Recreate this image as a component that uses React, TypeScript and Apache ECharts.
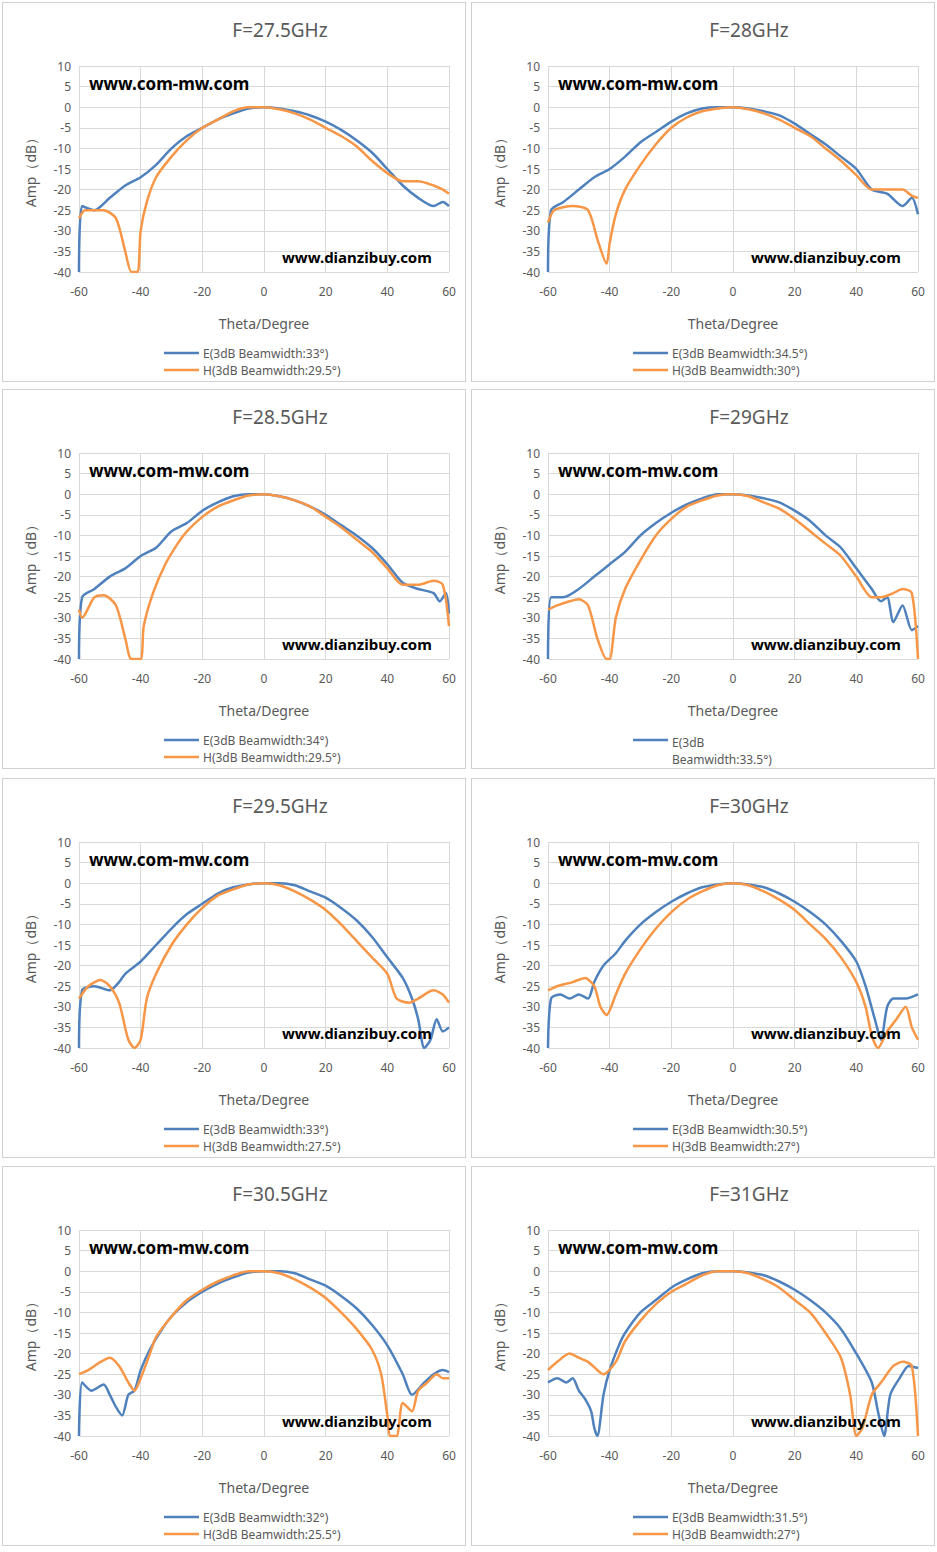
import React, { useEffect, useRef } from 'react';
import * as echarts from 'echarts';

const titles = ['F=27.5GHz', 'F=28GHz', 'F=28.5GHz', 'F=29GHz', 'F=29.5GHz', 'F=30GHz', 'F=30.5GHz', 'F=31GHz'];
const xTicks = [-60, -40, -20, 0, 20, 40, 60];
const yTicks = [-40, -35, -30, -25, -20, -15, -10, -5, 0, 5, 10];

const eLegend = ['E(3dB Beamwidth:33°)', 'E(3dB Beamwidth:34.5°)', 'E(3dB Beamwidth:34°)', 'E(3dB\nBeamwidth:33.5°)',
  'E(3dB Beamwidth:33°)', 'E(3dB Beamwidth:30.5°)', 'E(3dB Beamwidth:32°)', 'E(3dB Beamwidth:31.5°)'];
const hLegend = ['H(3dB Beamwidth:29.5°)', 'H(3dB Beamwidth:30°)', 'H(3dB Beamwidth:29.5°)', '',
  'H(3dB Beamwidth:27.5°)', 'H(3dB Beamwidth:27°)', 'H(3dB Beamwidth:25.5°)', 'H(3dB Beamwidth:27°)'];

const eData: number[][][] = [
  [[-60,-40],[-59,-24],[-55,-25],[-50,-22],[-45,-19],[-40,-17],[-35,-14],[-30,-10],[-25,-7],[-20,-5],[-15,-3],[-10,-1.5],[-5,-0.3],[0,0],[5,-0.3],[10,-1],[15,-2],[20,-3.5],[25,-5.5],[30,-8],[35,-11],[40,-15],[45,-19],[50,-22],[55,-24],[58,-23],[60,-24]],
  [[-60,-40],[-59,-25],[-55,-23],[-50,-20],[-45,-17],[-40,-15],[-35,-12],[-30,-8.5],[-25,-6],[-20,-3.5],[-15,-1.5],[-10,-0.3],[-5,0],[0,0],[5,-0.3],[10,-1],[15,-2],[20,-4],[25,-6.5],[30,-9],[35,-12],[40,-15],[45,-20],[50,-21],[55,-24],[58,-22],[60,-26]],
  [[-60,-40],[-59,-25],[-55,-23],[-50,-20],[-45,-18],[-40,-15],[-35,-13],[-30,-9],[-25,-7],[-20,-4],[-15,-2],[-10,-0.5],[-5,0],[0,0],[5,-0.5],[10,-1.5],[15,-3],[20,-5],[25,-7.5],[30,-10],[35,-13],[40,-17],[45,-21.5],[50,-23],[55,-24],[57,-26],[59,-24],[60,-29]],
  [[-60,-40],[-59,-25],[-55,-25],[-50,-23],[-45,-20],[-40,-17],[-35,-14],[-30,-10],[-25,-7],[-20,-4.5],[-15,-2.5],[-10,-1],[-5,0],[0,0],[5,-0.3],[10,-1],[15,-2],[20,-4],[25,-6.5],[30,-10],[35,-13],[40,-18],[45,-23],[48,-26],[50,-25],[52,-31],[55,-27],[58,-33],[60,-32]],
  [[-60,-40],[-59,-26],[-55,-25],[-50,-26],[-47,-24],[-45,-22],[-40,-19],[-35,-15],[-30,-11],[-25,-7.5],[-20,-5],[-15,-2.5],[-10,-1],[-5,-0.3],[0,0],[5,0],[10,-0.5],[15,-2],[20,-3.5],[25,-6],[30,-9],[35,-13],[40,-18],[45,-23],[48,-28],[50,-33],[52,-40],[54,-38],[56,-33],[58,-36],[60,-35]],
  [[-60,-40],[-59,-28],[-56,-27],[-53,-28],[-50,-27],[-47,-28],[-45,-24],[-42,-20],[-38,-17],[-35,-14],[-30,-10],[-25,-7],[-20,-4.5],[-15,-2.5],[-10,-1],[-5,-0.3],[0,0],[5,-0.3],[10,-1],[15,-2.5],[20,-4.5],[25,-7],[30,-10],[35,-14],[40,-19],[43,-25],[46,-33],[48,-38],[50,-30],[52,-28],[56,-28],[60,-27]],
  [[-60,-40],[-59,-27],[-56,-29],[-52,-27.5],[-50,-30],[-48,-33],[-46,-35],[-44,-30],[-42,-29],[-40,-24],[-37,-19],[-33,-14],[-30,-11],[-25,-7.5],[-20,-5],[-15,-3],[-10,-1.5],[-5,-0.3],[0,0],[5,0],[10,-0.5],[15,-2],[20,-3.5],[25,-6],[30,-9],[35,-13],[40,-18],[45,-25],[48,-30],[52,-27],[55,-25],[58,-24],[60,-24.5]],
  [[-60,-27],[-57,-26],[-54,-27],[-52,-26],[-50,-29],[-48,-31],[-46,-34],[-45,-38],[-44,-40],[-42,-30],[-40,-24],[-37,-18],[-35,-15],[-30,-10],[-25,-7],[-20,-4],[-15,-2],[-10,-0.5],[-5,0],[0,0],[5,-0.3],[10,-1],[15,-2.5],[20,-4.5],[25,-7],[30,-10],[35,-14],[40,-20],[45,-27],[47,-34],[49,-40],[51,-30],[54,-26],[57,-23],[60,-23.5]],
];

const hData: number[][][] = [
  [[-60,-27],[-58,-25],[-52,-25],[-48,-27],[-45,-35],[-43,-40],[-41,-40],[-40,-30],[-38,-23],[-35,-17],[-30,-12],[-25,-8],[-20,-5],[-15,-3],[-10,-1],[-5,0],[0,0],[5,-0.5],[10,-1.5],[15,-3],[20,-5],[25,-7],[30,-9.5],[35,-13],[40,-16],[45,-18],[50,-18],[55,-19],[58,-20],[60,-21]],
  [[-60,-28],[-58,-25],[-52,-24],[-47,-25],[-44,-32],[-41,-38],[-40,-33],[-38,-26],[-35,-20],[-30,-14],[-25,-9],[-20,-5],[-15,-2.5],[-10,-1],[-5,-0.3],[0,0],[5,-0.5],[10,-1.5],[15,-3],[20,-5],[25,-7],[30,-10],[35,-13],[40,-16.5],[45,-20],[50,-20],[55,-20],[58,-21.5],[60,-22]],
  [[-60,-28],[-59,-30],[-55,-25],[-52,-24.5],[-48,-27],[-45,-35],[-43,-40],[-40,-40],[-39,-32],[-36,-24],[-32,-17],[-28,-12],[-25,-9],[-20,-5.5],[-15,-3],[-10,-1.5],[-5,-0.3],[0,0],[5,-0.5],[10,-1.5],[15,-3],[20,-5.5],[25,-8],[30,-11],[35,-14],[40,-18],[45,-22],[50,-22],[55,-21],[58,-22],[60,-32]],
  [[-60,-28],[-57,-27],[-53,-26],[-50,-25.5],[-47,-27],[-44,-35],[-41,-40],[-40,-40],[-38,-30],[-35,-23],[-30,-16],[-25,-10],[-20,-6],[-15,-3],[-10,-1.5],[-5,-0.3],[0,0],[5,-0.5],[10,-2],[15,-3.5],[20,-6],[25,-9],[30,-12],[35,-15],[40,-20],[45,-25],[48,-25],[52,-24],[55,-23],[58,-24],[60,-40]],
  [[-60,-28],[-57,-25],[-53,-23.5],[-50,-25],[-47,-29],[-44,-38],[-42,-40],[-40,-38],[-38,-28],[-35,-22],[-30,-15],[-25,-10],[-20,-6],[-15,-3],[-10,-1.5],[-5,-0.3],[0,0],[5,-0.5],[10,-2],[15,-4],[20,-6.5],[25,-10],[30,-14],[35,-18],[40,-22],[43,-28],[47,-29],[50,-28],[55,-26],[58,-27],[60,-29]],
  [[-60,-26],[-57,-25],[-52,-24],[-48,-23],[-45,-25],[-43,-30],[-41,-32],[-38,-27],[-35,-22],[-30,-16],[-25,-11],[-20,-7],[-15,-4],[-10,-2],[-5,-0.5],[0,0],[5,-0.5],[10,-2],[15,-4],[20,-6.5],[25,-10],[30,-13.5],[35,-18],[40,-24],[43,-30],[45,-37],[47,-40],[50,-36],[53,-33],[56,-30],[58,-35],[60,-38]],
  [[-60,-25],[-57,-24],[-53,-22],[-50,-21],[-47,-23],[-44,-27],[-42,-29],[-40,-26],[-37,-20],[-35,-16],[-30,-11],[-25,-7],[-20,-4.5],[-15,-2.5],[-10,-1],[-5,0],[0,0],[5,-0.5],[10,-2],[15,-4],[20,-6.5],[25,-10],[30,-14],[35,-19],[38,-25],[40,-35],[41,-40],[43,-40],[45,-32],[48,-34],[50,-29],[53,-27],[56,-25],[58,-26],[60,-26]],
  [[-60,-24],[-57,-22],[-53,-20],[-50,-21],[-47,-22],[-44,-24],[-42,-25],[-38,-22],[-35,-17],[-30,-12],[-25,-8],[-20,-5],[-15,-3],[-10,-1],[-5,0],[0,0],[5,-0.5],[10,-2],[15,-4],[20,-7],[25,-10],[30,-15],[35,-21],[38,-30],[40,-40],[42,-38],[45,-30],[48,-27],[52,-23],[55,-22],[58,-23],[60,-40]],
];

const BLUE = '#4f81bd';
const ORANGE = '#f79646';
const GREY = '#595959';
const FONT = '"Noto Sans", "DejaVu Sans", sans-serif';
const colX = [2, 471];
const rowY = [2, 389, 778, 1166];

const Panel = ({ i }: { i: number }) => {
  const ref = useRef<HTMLDivElement>(null);
  useEffect(() => {
    if (!ref.current) return;
    const chart = echarts.init(ref.current, undefined, { renderer: 'svg' });
    const legend: any[] = [
      { type: 'line', shape: { x1: 161, y1: 350, x2: 196, y2: 350 }, style: { stroke: BLUE, lineWidth: 2.5 } },
      i === 3
        ? { type: 'text', x: 200, y: 344, style: { text: eLegend[i], fill: GREY, font: `12px ${FONT}`, lineHeight: 17 } }
        : { type: 'text', x: 200, y: 350, style: { text: eLegend[i], fill: GREY, font: `12px ${FONT}`, verticalAlign: 'middle' } },
    ];
    if (hLegend[i]) {
      legend.push(
        { type: 'line', shape: { x1: 161, y1: 367, x2: 196, y2: 367 }, style: { stroke: ORANGE, lineWidth: 2.5 } },
        { type: 'text', x: 200, y: 367, style: { text: hLegend[i], fill: GREY, font: `12px ${FONT}`, verticalAlign: 'middle' } },
      );
    }
    chart.setOption({
      animation: false,
      title: { text: titles[i], left: 272, top: 12, textAlign: 'center', textStyle: { color: GREY, fontSize: 19, fontWeight: 'normal', fontFamily: FONT } },
      grid: { left: 76, top: 63, width: 370, height: 206 },
      xAxis: {
        type: 'value', min: -60, max: 60, interval: 20,
        name: 'Theta/Degree', nameLocation: 'middle', nameGap: 44,
        nameTextStyle: { color: GREY, fontSize: 14, fontFamily: FONT },
        axisLine: { show: false }, axisTick: { show: false },
        axisLabel: { color: GREY, fontSize: 12, fontFamily: FONT, margin: 13, formatter: (v: number) => (xTicks.includes(v) ? String(v) : '') },
        splitLine: { lineStyle: { color: '#d9d9d9' } },
      },
      yAxis: {
        type: 'value', min: -40, max: 10, interval: 5,
        name: 'Amp（dB）', nameLocation: 'middle', nameGap: 42,
        nameTextStyle: { color: GREY, fontSize: 14, fontFamily: FONT },
        axisLine: { show: false }, axisTick: { show: false },
        axisLabel: { color: GREY, fontSize: 12, fontFamily: FONT, margin: 8, formatter: (v: number) => (yTicks.includes(v) ? String(v) : '') },
        splitLine: { lineStyle: { color: '#d9d9d9' } },
      },
      series: [
        { type: 'line', data: eData[i], smooth: 0.25, showSymbol: false, lineStyle: { color: BLUE, width: 2.5 }, itemStyle: { color: BLUE } },
        { type: 'line', data: hData[i], smooth: 0.25, showSymbol: false, lineStyle: { color: ORANGE, width: 2.5 }, itemStyle: { color: ORANGE } },
      ],
      graphic: [
        { type: 'text', x: 86, y: 72, z: 10, style: { text: 'www.com-mw.com', fill: '#000', font: `bold 17px ${FONT}` } },
        { type: 'text', x: 279, y: 246, z: 10, style: { text: 'www.dianzibuy.com', fill: '#000', font: `bold 15px ${FONT}` } },
        ...legend,
      ],
    });
    return () => chart.dispose();
  }, [i]);
  return (
    <div
      ref={ref}
      style={{
        position: 'absolute', left: colX[i % 2], top: rowY[Math.floor(i / 2)],
        width: 464, height: 380, border: '1px solid #d0d0d0', boxSizing: 'border-box', background: '#fff',
      }}
    />
  );
};

export default function App() {
  return (
    <div style={{ position: 'absolute', left: 0, top: 0, width: 937, height: 1552, background: '#fff' }}>
      {titles.map((_, i) => <Panel key={i} i={i} />)}
    </div>
  );
}
